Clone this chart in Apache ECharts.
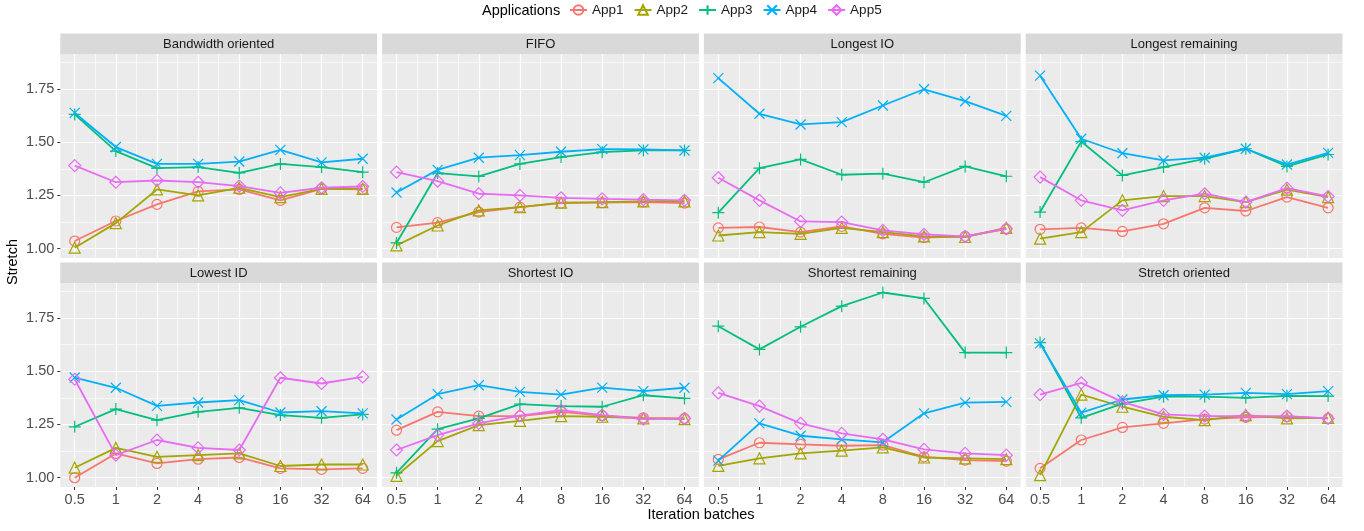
<!DOCTYPE html>
<html>
<head>
<meta charset="utf-8">
<script src="https://cdn.jsdelivr.net/npm/echarts@6/dist/echarts.min.js"></script>
<style>
  html, body { margin: 0; padding: 0; background: #fff; }
  #chart { width: 1364px; height: 531px; }
</style>
</head>
<body>
<div id="chart"></div>
<script>
// x categories (log2 spaced), legend names, colours
const batches = ['0.5', '1', '2', '4', '8', '16', '32', '64'];
const apps = ['App1', 'App2', 'App3', 'App4', 'App5'];
const appColors = ['#F8766D', '#A3A500', '#00BF7D', '#00B0F6', '#E76BF3'];
const yTicks = [1.0, 1.25, 1.5, 1.75];
const yMinorTicks = [1.125, 1.375, 1.625, 1.875];
const xTicks = [0, 1, 2, 3, 4, 5, 6, 7];
const xMinorTicks = [0.5, 1.5, 2.5, 3.5, 4.5, 5.5, 6.5];
const policies = ['Bandwidth oriented', 'FIFO', 'Longest IO', 'Longest remaining',
  'Lowest ID', 'Shortest IO', 'Shortest remaining', 'Stretch oriented'];

// one row per app (App1..App5), one value per batch size
const bandwidthOriented = [
  [1.036, 1.130, 1.208, 1.269, 1.278, 1.227, 1.281, 1.278],
  [1.005, 1.120, 1.278, 1.250, 1.286, 1.242, 1.281, 1.281],
  [1.630, 1.458, 1.378, 1.383, 1.356, 1.398, 1.383, 1.359],
  [1.637, 1.477, 1.398, 1.398, 1.409, 1.464, 1.405, 1.422],
  [1.390, 1.312, 1.320, 1.312, 1.294, 1.262, 1.286, 1.292]
];
const fifo = [
  [1.100, 1.122, 1.172, 1.195, 1.214, 1.216, 1.219, 1.214],
  [1.016, 1.109, 1.180, 1.195, 1.216, 1.219, 1.222, 1.222],
  [1.027, 1.355, 1.339, 1.398, 1.430, 1.453, 1.461, 1.461],
  [1.264, 1.370, 1.427, 1.439, 1.455, 1.467, 1.466, 1.461],
  [1.359, 1.317, 1.258, 1.250, 1.239, 1.234, 1.230, 1.227]
];
const longestIO = [
  [1.098, 1.102, 1.078, 1.105, 1.070, 1.052, 1.058, 1.092],
  [1.062, 1.078, 1.070, 1.098, 1.078, 1.058, 1.055, 1.098],
  [1.169, 1.378, 1.419, 1.347, 1.352, 1.312, 1.386, 1.340],
  [1.800, 1.633, 1.583, 1.594, 1.672, 1.748, 1.692, 1.623],
  [1.333, 1.227, 1.128, 1.125, 1.086, 1.067, 1.058, 1.094]
];
const longestRemaining = [
  [1.091, 1.098, 1.081, 1.117, 1.192, 1.177, 1.242, 1.192],
  [1.047, 1.078, 1.227, 1.247, 1.247, 1.219, 1.277, 1.242],
  [1.172, 1.503, 1.344, 1.383, 1.422, 1.469, 1.386, 1.442],
  [1.812, 1.516, 1.448, 1.414, 1.427, 1.469, 1.395, 1.450],
  [1.336, 1.227, 1.180, 1.227, 1.258, 1.219, 1.284, 1.245]
];
const lowestID = [
  [1.000, 1.114, 1.067, 1.087, 1.095, 1.044, 1.039, 1.044],
  [1.047, 1.140, 1.098, 1.106, 1.114, 1.055, 1.062, 1.062],
  [1.239, 1.322, 1.270, 1.309, 1.328, 1.294, 1.281, 1.297],
  [1.470, 1.422, 1.337, 1.353, 1.364, 1.306, 1.312, 1.302],
  [1.462, 1.106, 1.177, 1.140, 1.130, 1.469, 1.442, 1.473]
];
const shortestIO = [
  [1.223, 1.309, 1.289, 1.289, 1.309, 1.291, 1.281, 1.278],
  [1.009, 1.172, 1.247, 1.267, 1.289, 1.286, 1.278, 1.275],
  [1.023, 1.228, 1.278, 1.345, 1.336, 1.333, 1.387, 1.372],
  [1.273, 1.392, 1.434, 1.403, 1.390, 1.423, 1.406, 1.422],
  [1.130, 1.200, 1.255, 1.291, 1.317, 1.294, 1.275, 1.278]
];
const shortestRemaining = [
  [1.086, 1.164, 1.156, 1.150, 1.153, 1.098, 1.083, 1.078],
  [1.056, 1.091, 1.114, 1.127, 1.142, 1.095, 1.091, 1.087],
  [1.711, 1.602, 1.708, 1.805, 1.869, 1.841, 1.587, 1.587],
  [1.080, 1.255, 1.197, 1.180, 1.166, 1.302, 1.352, 1.356],
  [1.398, 1.336, 1.255, 1.208, 1.180, 1.133, 1.114, 1.106]
];
const stretchOriented = [
  [1.044, 1.177, 1.236, 1.255, 1.275, 1.283, 1.286, 1.278],
  [1.012, 1.390, 1.333, 1.286, 1.270, 1.294, 1.278, 1.281],
  [1.634, 1.281, 1.348, 1.380, 1.380, 1.375, 1.384, 1.383],
  [1.630, 1.305, 1.367, 1.387, 1.390, 1.398, 1.392, 1.406],
  [1.390, 1.445, 1.356, 1.297, 1.289, 1.289, 1.289, 1.278]
];
const panelData = [bandwidthOriented, fifo, longestIO, longestRemaining,
  lowestID, shortestIO, shortestRemaining, stretchOriented];

const symbols = [
  'circle',
  'triangle',
  'path://M5,0L5,10M0,5L10,5',
  'path://M0,0L10,10M0,10L10,0',
  'diamond'
];
const symbolSizes = [10, 11, 12, 10, 12];

const chart = echarts.init(document.getElementById('chart'));

const FONT = '"Liberation Sans", Arial, sans-serif';
const panelW = 316.8, panelH = 204, stripH = 20.5;
const grids = [], xAxes = [], yAxes = [], series = [], graphics = [];

for (let p = 0; p < 8; p++) {
  const col = p % 4, row = Math.floor(p / 4);
  const left = 60.3 + col * 321.8;
  const top = row === 0 ? 54 : 283;
  grids.push({
    left: left, top: top, width: panelW, height: panelH,
    show: true, backgroundColor: '#EBEBEB', borderWidth: 0
  });

  // major x
  xAxes.push({
    gridIndex: p, type: 'value', min: -0.35, max: 7.35,
    axisLine: { show: false, onZero: false },
    axisTick: { show: row === 1, customValues: xTicks, length: 3, lineStyle: { color: '#333333' } },
    axisLabel: {
      show: row === 1, customValues: xTicks, margin: 5,
      color: '#4D4D4D', fontSize: 14.5, fontFamily: FONT,
      formatter: v => batches[Math.round(v)]
    },
    splitLine: { show: true, lineStyle: { color: '#FFFFFF', width: 1.2 } }
  });
  // minor x
  xAxes.push({
    gridIndex: p, type: 'value', min: -0.35, max: 7.35, position: 'bottom',
    axisLine: { show: false, onZero: false },
    axisTick: { show: false, customValues: xMinorTicks },
    axisLabel: { show: false, customValues: xMinorTicks },
    splitLine: { show: true, lineStyle: { color: '#FFFFFF', width: 0.6 } }
  });
  // major y
  yAxes.push({
    gridIndex: p, type: 'value', min: 0.9565, max: 1.9135,
    axisLine: { show: false, onZero: false },
    axisTick: { show: col === 0, customValues: yTicks, length: 3, lineStyle: { color: '#333333' } },
    axisLabel: {
      show: col === 0, customValues: yTicks, margin: 6,
      color: '#4D4D4D', fontSize: 14.5, fontFamily: FONT,
      formatter: v => v.toFixed(2)
    },
    splitLine: { show: true, lineStyle: { color: '#FFFFFF', width: 1.2 } }
  });
  // minor y
  yAxes.push({
    gridIndex: p, type: 'value', min: 0.9565, max: 1.9135, position: 'left',
    axisLine: { show: false, onZero: false },
    axisTick: { show: false, customValues: yMinorTicks },
    axisLabel: { show: false, customValues: yMinorTicks },
    splitLine: { show: true, lineStyle: { color: '#FFFFFF', width: 0.6 } }
  });

  // facet strip
  graphics.push({
    type: 'rect', silent: true,
    shape: { x: left, y: top - stripH, width: panelW, height: stripH },
    style: { fill: '#D9D9D9' }
  });
  graphics.push({
    type: 'text', silent: true, x: left + panelW / 2, y: top - stripH / 2 + 0.5,
    style: {
      text: policies[p], align: 'center', verticalAlign: 'middle',
      fill: '#1A1A1A', fontSize: 13, fontFamily: FONT
    }
  });

  panelData[p].forEach((vals, a) => {
    series.push({
      name: apps[a], type: 'line',
      xAxisIndex: p * 2, yAxisIndex: p * 2,
      data: vals.map((v, i) => [i, v]),
      symbol: symbols[a], symbolSize: symbolSizes[a],
      showAllSymbol: true,
      lineStyle: { color: appColors[a], width: 1.8 },
      itemStyle: { color: 'rgba(0,0,0,0)', borderColor: appColors[a], borderWidth: 1.2 },
      emphasis: { disabled: true },
      z: 2 + a
    });
  });
}

// axis titles and legend title
graphics.push({
  type: 'text', silent: true, x: 701, y: 515,
  style: { text: 'Iteration batches', align: 'center', verticalAlign: 'middle', fill: '#000', fontSize: 14.5, fontFamily: FONT }
});
graphics.push({
  type: 'text', silent: true, x: 13, y: 262, rotation: Math.PI / 2,
  style: { text: 'Stretch', align: 'center', verticalAlign: 'middle', fill: '#000', fontSize: 14.5, fontFamily: FONT }
});
graphics.push({
  type: 'text', silent: true, x: 482, y: 11,
  style: { text: 'Applications', align: 'left', verticalAlign: 'middle', fill: '#000', fontSize: 14.5, fontFamily: FONT }
});

chart.setOption({
  animation: false,
  backgroundColor: '#FFFFFF',
  legend: {
    data: apps, left: 564, top: -2,
    itemWidth: 17, itemHeight: 12, itemGap: 10,
    textStyle: { color: '#1A1A1A', fontSize: 13.5, fontFamily: FONT }
  },
  grid: grids,
  xAxis: xAxes,
  yAxis: yAxes,
  series: series,
  graphic: graphics
});
</script>
</body>
</html>
